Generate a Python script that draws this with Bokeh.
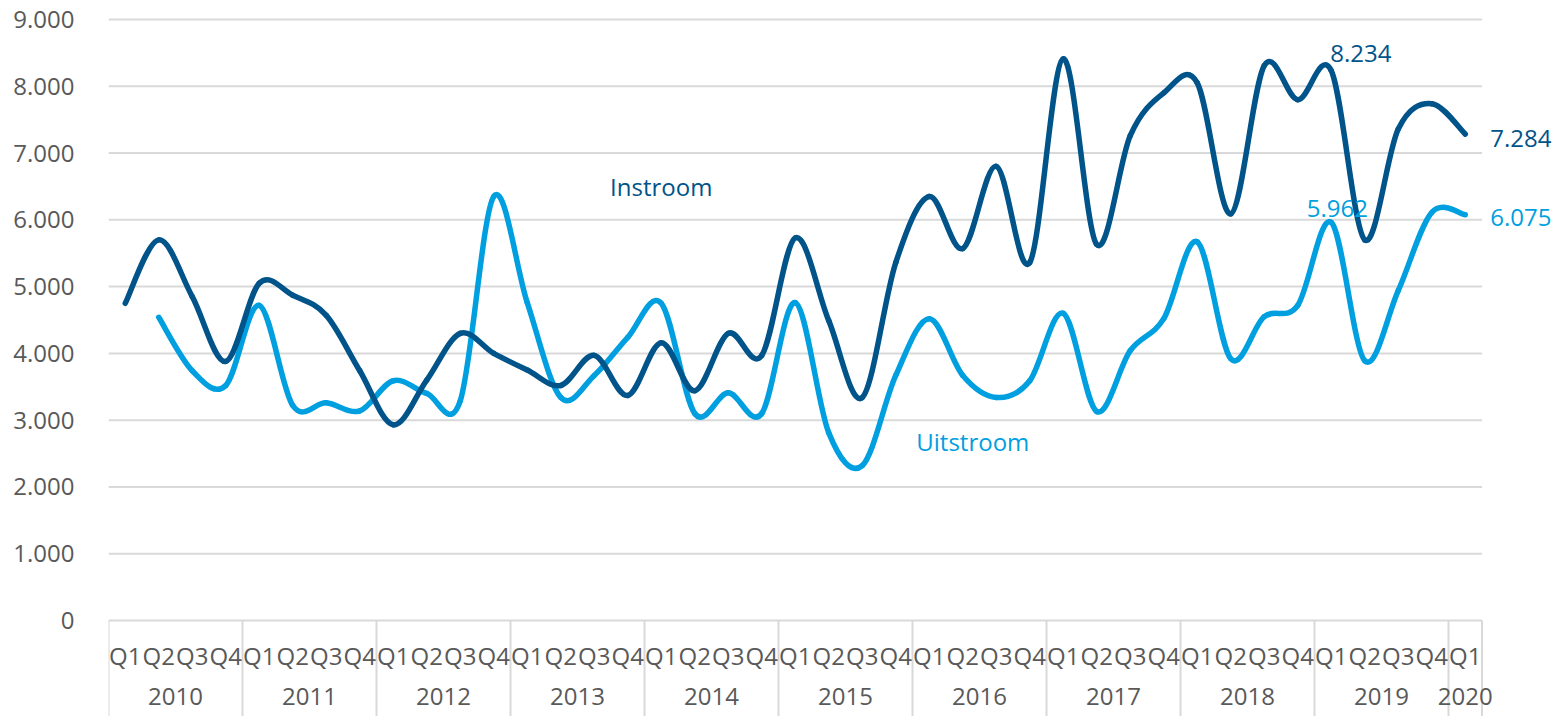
import numpy as np
from bokeh.plotting import figure
from bokeh.models import FixedTicker, ColumnDataSource, Range1d
from bokeh.core.properties import value
from bokeh.embed import file_html
from bokeh.resources import INLINE

# ---------------- data ----------------
years = ["2010", "2011", "2012", "2013", "2014", "2015", "2016", "2017", "2018", "2019", "2020"]
quarters = ["Q1", "Q2", "Q3", "Q4"]
quarter_labels = [q for y in years[:-1] for q in quarters] + ["Q1"]   # 41 quarters, 2010Q1..2020Q1

instroom = [4750, 5700, 4850, 3880, 5050, 4870, 4570, 3740, 2930, 3600,
            4300, 4000, 3750, 3520, 3970, 3370, 4160, 3440, 4300, 3970,
            5730, 4490, 3340, 5360, 6350, 5570, 6800, 5360, 8410, 5630,
            7260, 7900, 8050, 6090, 8310, 7800, 8234, 5700, 7360, 7740,
            7284]
uitstroom = [None, 4540, 3740, 3520, 4720, 3220, 3260, 3140, 3590, 3400,
             3290, 6350, 4760, 3340, 3670, 4240, 4750, 3100, 3410, 3100,
             4760, 2810, 2320, 3670, 4520, 3670, 3340, 3590, 4600, 3130,
             4040, 4520, 5670, 3920, 4550, 4720, 5962, 3890, 4940, 6110,
             6075]
y_ticks = [0, 1000, 2000, 3000, 4000, 5000, 6000, 7000, 8000, 9000]
y_tick_labels = ["0", "1.000", "2.000", "3.000", "4.000", "5.000", "6.000", "7.000", "8.000", "9.000"]

DARK = "#00548A"
LIGHT = "#009FE0"
GREY_TXT = "#595959"
GRID = "#D9D9D9"
FONT = "Open Sans"

n = len(quarter_labels)
xc = [i + 0.5 for i in range(n)]


def bezier_source(xs, ys):
    pts = [(x, y) for x, y in zip(xs, ys) if y is not None]
    m = len(pts)
    d = dict(x0=[], y0=[], x1=[], y1=[], cx0=[], cy0=[], cx1=[], cy1=[])
    for i in range(m - 1):
        p0 = np.array(pts[i - 1] if i > 0 else pts[i], float)
        p1 = np.array(pts[i], float)
        p2 = np.array(pts[i + 1], float)
        p3 = np.array(pts[i + 2] if i + 2 < m else pts[i + 1], float)
        c1 = p1 + (p2 - p0) / 6.0
        c2 = p2 - (p3 - p1) / 6.0
        d["x0"].append(p1[0]); d["y0"].append(p1[1])
        d["x1"].append(p2[0]); d["y1"].append(p2[1])
        d["cx0"].append(c1[0]); d["cy0"].append(c1[1])
        d["cx1"].append(c2[0]); d["cy1"].append(c2[1])
    return ColumnDataSource(d)


# ---------------- figure ----------------
PX_X = 33.5          # px per quarter
PX_Y = 66.78 / 1000  # px per unit
W, H = 1560, 716
LEFT = 108
frame_w = W - LEFT
x_end = frame_w / PX_X
y_top = 9000 + 19 / PX_Y
y_bot = -(H - 620) / PX_Y

p = figure(width=W, height=H, output_backend="svg", toolbar_location=None,
           x_range=Range1d(0, x_end), y_range=Range1d(y_bot, y_top),
           x_axis_location=None, min_border_left=LEFT, min_border_right=0,
           min_border_top=0, min_border_bottom=0, tools="")
p.outline_line_color = None
p.xgrid.visible = False
p.ygrid.visible = False
p.background_fill_color = "white"
p.border_fill_color = "white"

ax = p.yaxis[0]
ax.ticker = FixedTicker(ticks=y_ticks)
ax.major_label_overrides = {t: s for t, s in zip(y_ticks, y_tick_labels)}
ax.axis_line_color = None
ax.major_tick_line_color = None
ax.minor_tick_line_color = None
ax.major_label_standoff = 28
ax.major_label_text_font = FONT
ax.major_label_text_font_size = "24px"
ax.major_label_text_color = GREY_TXT

# horizontal gridlines
p.segment(x0=[0] * len(y_ticks), y0=y_ticks, x1=[n] * len(y_ticks), y1=y_ticks,
          line_color=GRID, line_width=2)

# vertical year separators in the category area
sep_x = [i * 4 for i in range(len(years))] + [n]
p.segment(x0=sep_x, y0=[0] * len(sep_x), x1=sep_x, y1=[y_bot] * len(sep_x),
          line_color=GRID, line_width=2)

# quarter labels and year labels
p.text(x=xc, y=[-524] * n, text=quarter_labels, text_align="center", text_baseline="middle",
       text_font=value(FONT), text_font_size="24px", text_color=GREY_TXT)
year_x = [(sep_x[i] + sep_x[i + 1]) / 2 for i in range(len(years))]
p.text(x=year_x, y=[-1135] * len(years), text=years, text_align="center", text_baseline="middle",
       text_font=value(FONT), text_font_size="24px", text_color=GREY_TXT)

# smoothed lines
src_u = bezier_source(xc, uitstroom)
src_i = bezier_source(xc, instroom)
p.bezier(x0="x0", y0="y0", x1="x1", y1="y1", cx0="cx0", cy0="cy0", cx1="cx1", cy1="cy1",
         source=src_u, line_color=LIGHT, line_width=5.5, line_cap="round")
p.bezier(x0="x0", y0="y0", x1="x1", y1="y1", cx0="cx0", cy0="cy0", cx1="cx1", cy1="cy1",
         source=src_i, line_color=DARK, line_width=5.5, line_cap="round")

# series labels
p.text(x=[16.5], y=[6500], text=["Instroom"], text_align="center", text_baseline="middle",
       text_font=value(FONT), text_font_size="24px", text_color=DARK)
p.text(x=[25.8], y=[2680], text=["Uitstroom"], text_align="center", text_baseline="middle",
       text_font=value(FONT), text_font_size="24px", text_color=LIGHT)

# value labels
def fmt(v):
    return f"{v:,}".replace(",", ".")

i_max = 36
p.text(x=[xc[i_max]], y=[instroom[i_max]], text=[fmt(instroom[i_max])], text_align="left",
       text_baseline="middle", x_offset=-1, y_offset=-17,
       text_font=value(FONT), text_font_size="24px", text_color=DARK)
p.text(x=[xc[i_max]], y=[uitstroom[i_max]], text=[fmt(uitstroom[i_max])], text_align="center",
       text_baseline="middle", x_offset=6, y_offset=-14,
       text_font=value(FONT), text_font_size="24px", text_color=LIGHT)
p.text(x=[xc[-1]], y=[instroom[-1]], text=[fmt(instroom[-1])], text_align="left",
       text_baseline="middle", x_offset=25, y_offset=4,
       text_font=value(FONT), text_font_size="24px", text_color=DARK)
p.text(x=[xc[-1]], y=[uitstroom[-1]], text=[fmt(uitstroom[-1])], text_align="left",
       text_baseline="middle", x_offset=25, y_offset=3,
       text_font=value(FONT), text_font_size="24px", text_color=LIGHT)

open("out.html", "w").write(file_html(p, INLINE))
